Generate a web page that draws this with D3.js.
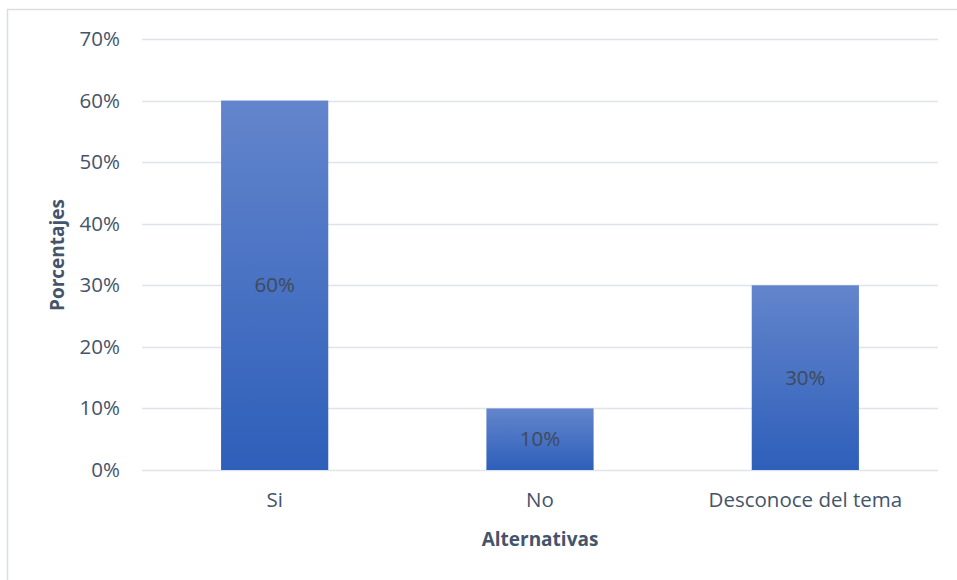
<!DOCTYPE html>
<html>
<head>
<meta charset="utf-8">
<script src="https://cdn.jsdelivr.net/npm/d3@7"></script>
<style>
  html, body { margin: 0; padding: 0; background: #fff; }
  svg { display: block; font-family: "Open Sans", Lato, sans-serif; }
</style>
</head>
<body>
<svg id="chart" width="957" height="580"></svg>
<script>
// Survey answers and their share of respondents
const categories = ["Si", "No", "Desconoce del tema"];
const percentages = [0.60, 0.10, 0.30];
const yTicks = [0, 0.1, 0.2, 0.3, 0.4, 0.5, 0.6, 0.7];

const FONT = "'Open Sans', Lato, sans-serif";
const svg = d3.select("#chart");
const margin = { left: 142, right: 19, top: 39, bottom: 110 };
const W = 957, H = 580;

// chart frame
svg.append("rect")
  .attr("x", 7.5).attr("y", 9.5)
  .attr("width", 960).attr("height", 580)
  .attr("fill", "none").attr("stroke", "#d9dee5").attr("stroke-width", 1.5);

const x = d3.scaleBand().domain(categories)
  .range([margin.left, W - margin.right]).padding(0);
const y = d3.scaleLinear().domain([0, 0.7])
  .range([H - margin.bottom, margin.top]);

const barW = x.bandwidth() * 0.404;

// gradient fill for the bars
const grad = svg.append("defs").append("linearGradient")
  .attr("id", "barFill").attr("x1", 0).attr("y1", 0).attr("x2", 0).attr("y2", 1);
grad.append("stop").attr("offset", "0%").attr("stop-color", "#6385cc");
grad.append("stop").attr("offset", "100%").attr("stop-color", "#2e5fba");

// gridlines
svg.append("g").selectAll("line").data(yTicks).join("line")
  .attr("x1", margin.left).attr("x2", W - margin.right)
  .attr("y1", d => Math.round(y(d)) + 0.5).attr("y2", d => Math.round(y(d)) + 0.5)
  .attr("stroke", "#dfe3ea").attr("stroke-width", 1.5);

// y axis tick labels
const yAxis = d3.axisLeft(y).tickValues(yTicks).tickFormat(d3.format(".0%")).tickSize(0).tickPadding(22);
const gy = svg.append("g").attr("transform", `translate(${margin.left},0)`).call(yAxis);
gy.select(".domain").remove();
gy.selectAll("text").attr("font-size", 20.5).attr("fill", "#44546a")
  .attr("font-family", FONT);

// bars
svg.append("g").selectAll("rect").data(percentages).join("rect")
  .attr("x", (d, i) => x(categories[i]) + x.bandwidth() / 2 - barW / 2)
  .attr("width", barW)
  .attr("y", d => y(d))
  .attr("height", d => y(0) - y(d))
  .attr("fill", "url(#barFill)");

// value labels in the middle of each bar
svg.append("g").selectAll("text").data(percentages).join("text")
  .attr("x", (d, i) => x(categories[i]) + x.bandwidth() / 2)
  .attr("y", d => (y(d) + y(0)) / 2)
  .attr("dy", "0.35em")
  .attr("text-anchor", "middle")
  .attr("font-size", 20.5).attr("fill", "#3f4a5a")
  .text(d => d3.format(".0%")(d));

// x axis category labels
const xAxis = d3.axisBottom(x).tickSize(0).tickPadding(22);
const gx = svg.append("g").attr("transform", `translate(0,${y(0)})`).call(xAxis);
gx.select(".domain").remove();
gx.selectAll("text").attr("font-size", 20.5).attr("fill", "#44546a")
  .attr("font-family", FONT);

// axis titles
svg.append("text")
  .attr("x", (margin.left + W - margin.right) / 2).attr("y", 546)
  .attr("text-anchor", "middle").attr("font-size", 19).attr("font-weight", "bold")
  .attr("fill", "#44546a").text("Alternativas");

svg.append("text")
  .attr("transform", "translate(64,255) rotate(-90)")
  .attr("text-anchor", "middle").attr("font-size", 19).attr("font-weight", "bold")
  .attr("fill", "#44546a").text("Porcentajes");
</script>
</body>
</html>
